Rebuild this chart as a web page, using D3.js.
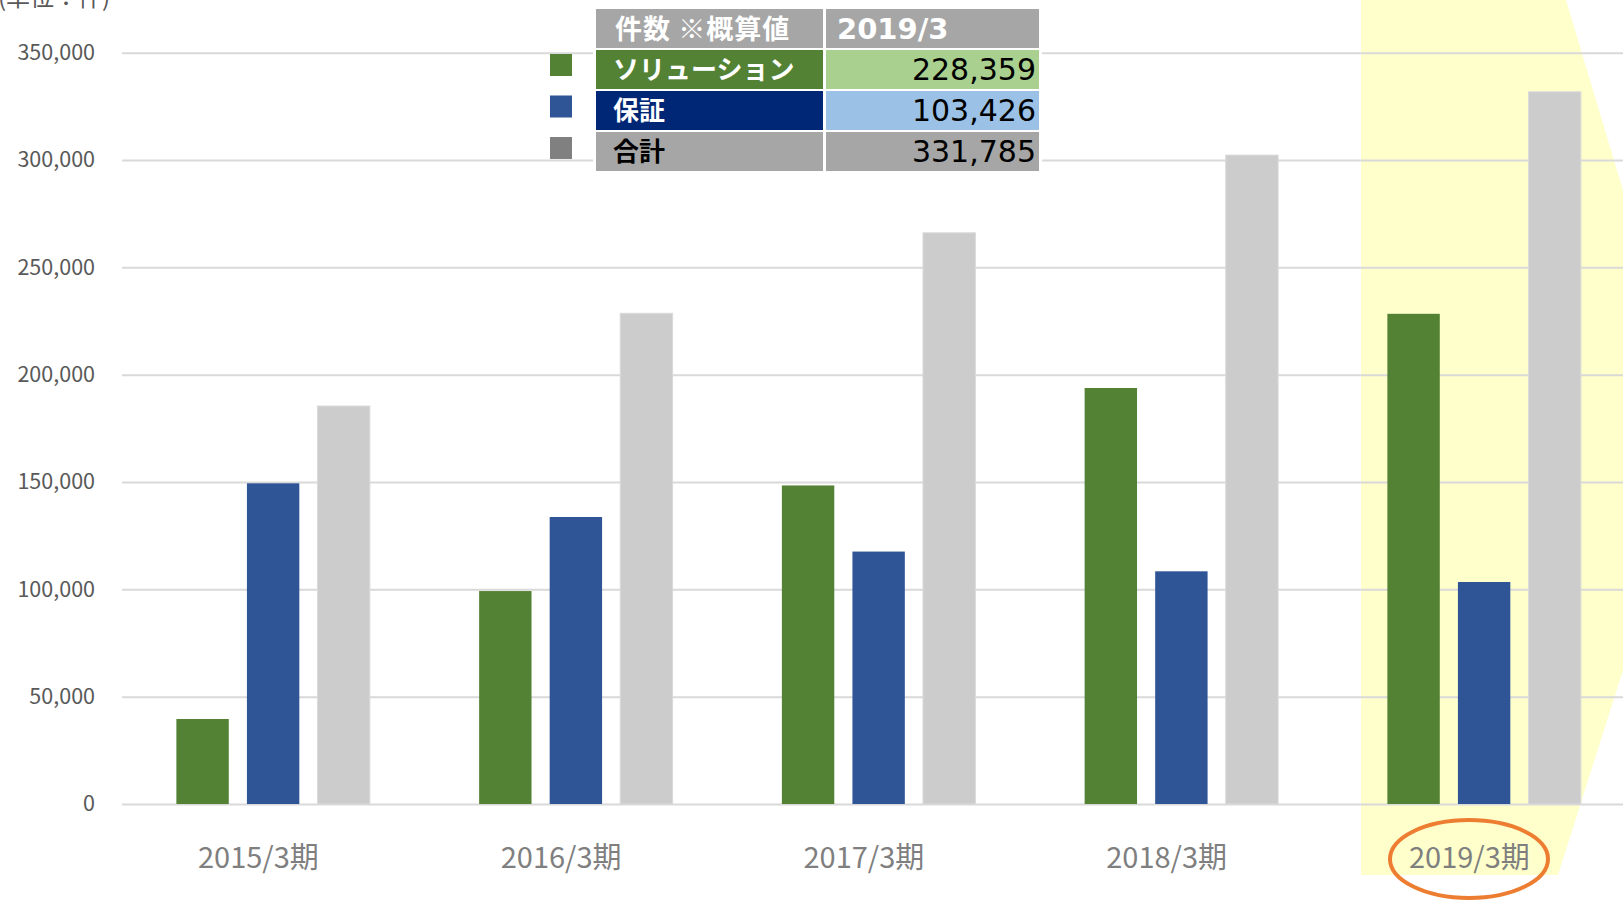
<!DOCTYPE html>
<html lang="ja">
<head>
<meta charset="utf-8">
<script src="https://d3js.org/d3.v7.min.js"></script>
<style>
  body { margin: 0; background: #fff; }
  svg { display: block; }
  .tick text { font-family: "Noto Sans CJK JP", "Noto Sans", sans-serif; }
</style>
</head>
<body>
<svg></svg>
<script>
// chart data
const categories = ["2015/3期", "2016/3期", "2017/3期", "2018/3期", "2019/3期"];
const seriesNames = ["ソリューション", "保証", "合計"];
const solution = [39600, 99200, 148400, 193800, 228359];
const guarantee = [149400, 133700, 117600, 108400, 103426];
const total = [185400, 228600, 266100, 302300, 331785];
const yTicks = [0, 50000, 100000, 150000, 200000, 250000, 300000, 350000];

// summary table
const tableHead = ["件数 ※概算値", "2019/3"];
const tableLabels = ["ソリューション", "保証", "合計"];
const tableValues = ["228,359", "103,426", "331,785"];

const width = 1623, height = 900;
const seriesColor = ["#548235", "#2f5597", "#cccccc"];

let svg = d3.select("svg").attr("width", width).attr("height", height);

let y = d3.scaleLinear().domain([0, 350000]).range([804, 52.7]);
let x0 = d3.scaleBand().domain(categories).range([121, 121 + 5 * 302.75]);
let x1 = d3.scaleBand().domain(seriesNames).range([-96, 97.5]).paddingInner(18 / 70);

// yellow highlight arrow behind the last period
svg.append("polygon")
    .attr("points", "1361,0 1566,0 1697,437 1558,875 1361,875")
    .attr("fill", "#ffffcc");

// gridlines + y labels
let yAxis = svg.append("g")
    .attr("transform", "translate(122,0)")
    .call(d3.axisLeft(y).tickValues(yTicks).tickSize(-(width - 122)).tickPadding(27).tickFormat(d3.format(",")));
yAxis.select(".domain").remove();
yAxis.selectAll(".tick line").attr("stroke", "#d9d9d9").attr("stroke-width", 2);
yAxis.selectAll(".tick text").attr("fill", "#595959").style("font-size", "21.5px");

// unit label (cut off at the top, as in the source)
svg.append("text")
    .attr("x", -2).attr("y", 6)
    .attr("fill", "#595959")
    .style("font-family", "'Noto Sans CJK JP', sans-serif")
    .style("font-size", "24px")
    .text("(単位：件)");

// bars
let rows = categories.map((c, i) => ({cat: c, vals: [solution[i], guarantee[i], total[i]]}));
let groups = svg.append("g").selectAll("g")
    .data(rows)
    .enter().append("g")
    .attr("transform", d => "translate(" + (x0(d.cat) + x0.bandwidth() / 2) + ",0)");

groups.selectAll("rect")
    .data(d => d.vals.map((v, j) => ({name: seriesNames[j], v: v, j: j})))
    .enter().append("rect")
    .attr("x", d => x1(d.name))
    .attr("width", x1.bandwidth())
    .attr("y", d => y(d.v))
    .attr("height", d => y(0) - y(d.v))
    .attr("fill", d => seriesColor[d.j])
    .attr("stroke", d => d.j == 2 ? "#dadada" : "none")
    .attr("stroke-width", 1);

// category labels
svg.append("g").selectAll("text")
    .data(categories)
    .enter().append("text")
    .attr("x", d => x0(d) + x0.bandwidth() / 2 - 14)
    .attr("y", 868)
    .attr("text-anchor", "middle")
    .attr("fill", "#7f7f7f")
    .style("font-family", "'Noto Sans CJK JP', sans-serif")
    .style("font-size", "29px")
    .text(d => d);

// orange ring round the latest period
svg.append("ellipse")
    .attr("cx", 1469).attr("cy", 859)
    .attr("rx", 79).attr("ry", 39)
    .attr("fill", "none")
    .attr("stroke", "#ed7d31")
    .attr("stroke-width", 4);

// table with legend squares
let tbl = svg.append("g");
tbl.append("rect").attr("x", 593).attr("y", 6).attr("width", 449).attr("height", 168).attr("fill", "#fff");

let col1 = 596, col1w = 227, col2 = 826, col2w = 213, rowH = 39;
let rowY = i => 9 + i * 41;
let labelFill = ["#548235", "#002776", "#a6a6a6"];
let valueFill = ["#a9d08e", "#9bc2e6", "#a6a6a6"];
let labelColor = ["#fff", "#fff", "#000"];
let legendColor = ["#548235", "#2f5597", "#808080"];

// header
tbl.append("rect").attr("x", col1).attr("y", rowY(0)).attr("width", col1w).attr("height", rowH).attr("fill", "#a6a6a6");
tbl.append("rect").attr("x", col2).attr("y", rowY(0)).attr("width", col2w).attr("height", rowH).attr("fill", "#a6a6a6");
tbl.append("text")
    .attr("x", col1 + 19).attr("y", rowY(0) + rowH / 2 + 10)
    .attr("fill", "#fff")
    .style("font-family", "'Noto Sans CJK JP', sans-serif")
    .style("font-size", "27px").style("font-weight", "bold")
    .style("letter-spacing", "1px")
    .text(tableHead[0]);
tbl.append("text")
    .attr("x", col2 + 11).attr("y", rowY(0) + rowH / 2 + 10)
    .attr("fill", "#fff")
    .style("font-family", "'DejaVu Sans', sans-serif")
    .style("font-size", "29px").style("font-weight", "bold")
    .text(tableHead[1]);

tableLabels.forEach((lab, i) => {
    let ry = rowY(i + 1);
    tbl.append("rect").attr("x", 550).attr("y", 54 + i * 41.5).attr("width", 22).attr("height", 22).attr("fill", legendColor[i]);
    tbl.append("rect").attr("x", col1).attr("y", ry).attr("width", col1w).attr("height", rowH).attr("fill", labelFill[i]);
    tbl.append("rect").attr("x", col2).attr("y", ry).attr("width", col2w).attr("height", rowH).attr("fill", valueFill[i]);
    tbl.append("text")
        .attr("x", col1 + 17).attr("y", ry + rowH / 2 + 9)
        .attr("fill", labelColor[i])
        .style("font-family", "'Noto Sans CJK JP', sans-serif")
        .style("font-size", "26px").style("font-weight", "bold")
        .text(lab);
    tbl.append("text")
        .attr("x", col2 + col2w - 3).attr("y", ry + rowH / 2 + 10)
        .attr("text-anchor", "end")
        .attr("fill", "#000")
        .style("font-family", "'DejaVu Sans', sans-serif")
        .style("font-size", "30px")
        .text(tableValues[i]);
});
</script>
</body>
</html>
